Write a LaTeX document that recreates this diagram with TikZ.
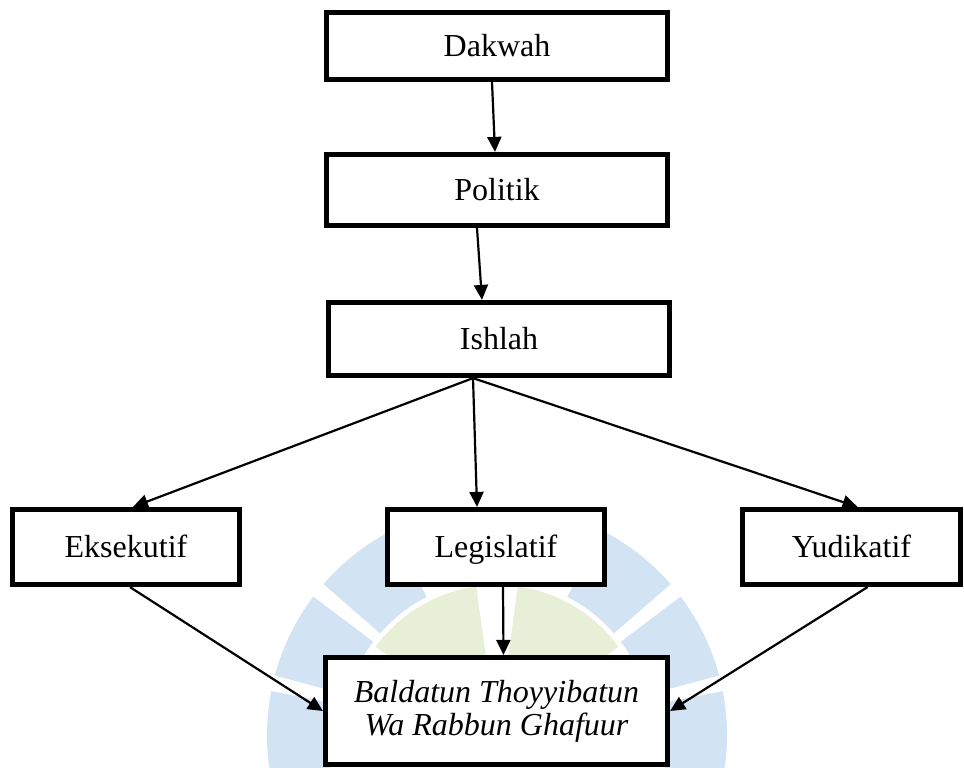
\documentclass[tikz,border=0pt]{standalone}
\usepackage{fontspec}
\setmainfont{Liberation Serif}
\usetikzlibrary{arrows.meta, calc}
\definecolor{wmblue}{RGB}{210,227,243}
\definecolor{wmgreen}{RGB}{231,240,214}

\begin{document}
\begin{tikzpicture}[
    x=0.5pt, y=-0.5pt,
    >={Triangle[length=7.5pt, width=7pt]},
    stagebox/.style={draw, rectangle, line width=2.6pt, fill=white, inner sep=0pt, align=center, font=\fontsize{16}{16.5}\selectfont},
    labelbox/.style={stagebox, text height=12pt, text depth=2pt},
    flowarrow/.style={->, line width=1.1pt, black},
    wmseg/.style={fill=wmblue}
]
\useasboundingbox (0,0) rectangle (964,767);

% 1. Watermark behind the chart
\coordinate (logo) at (497,735);
\foreach \a in {180,206,232,308,334,360}
    \fill[wmseg] ($(logo)+(\a-11:155)$) arc[start angle=\a-11, end angle=\a+11, radius=155]
        -- ($(logo)+(\a+11:230)$) arc[start angle=\a+11, end angle=\a-11, radius=230] -- cycle;
\foreach \a/\b in {216/262, 278/324}
    \fill[wmgreen] ($(logo)+(\a:40)$) arc[start angle=\a, end angle=\b, radius=40]
        -- ($(logo)+(\b:150)$) arc[start angle=\b, end angle=\a, radius=150] -- cycle;

% 2. Upper chain
\node[labelbox, minimum width=170.5pt, minimum height=33.5pt] (dakwah) at (497,46) {Dakwah};
\node[labelbox, minimum width=170.5pt, minimum height=35.5pt] (politik) at (497,190) {Politik};
\node[labelbox, minimum width=170.5pt, minimum height=36.5pt] (ishlah) at (499,339) {Ishlah};

% 3. Three branches
\node[labelbox, minimum width=113.5pt, minimum height=37.5pt] (eks) at (126,547) {Eksekutif};
\node[labelbox, minimum width=108.5pt, minimum height=37.5pt] (leg) at (496,547) {Legislatif};
\node[labelbox, minimum width=109pt, minimum height=37.5pt] (yud) at (851.5,547) {Yudikatif};

% 4. Goal
\node[stagebox, minimum width=171pt, minimum height=53.5pt, font=\fontsize{16}{16.5}\selectfont\itshape] (bald) at (496.5,711) {Baldatun Thoyyibatun\\Wa Rabbun Ghafuur};

% 5. Arrows
\draw[flowarrow] ([xshift=-2.5pt]dakwah.south) -- ([xshift=-1pt]politik.north);
\draw[flowarrow] ([xshift=-10pt]politik.south) -- ([xshift=-8.5pt]ishlah.north);
\coordinate (split) at ([xshift=-13pt]ishlah.south);
\draw[flowarrow] (split) -- ([xshift=3.5pt]eks.north);
\draw[flowarrow] (split) -- ([xshift=-9.5pt]leg.north);
\draw[flowarrow] (split) -- ([xshift=3pt]yud.north);
\draw[flowarrow] ([xshift=2pt]eks.south) -- (bald.west);
\draw[flowarrow] ([xshift=3.5pt]leg.south) -- ([xshift=3.5pt]bald.north);
\draw[flowarrow] ([xshift=8pt]yud.south) -- (bald.east);

\end{tikzpicture}
\end{document}
